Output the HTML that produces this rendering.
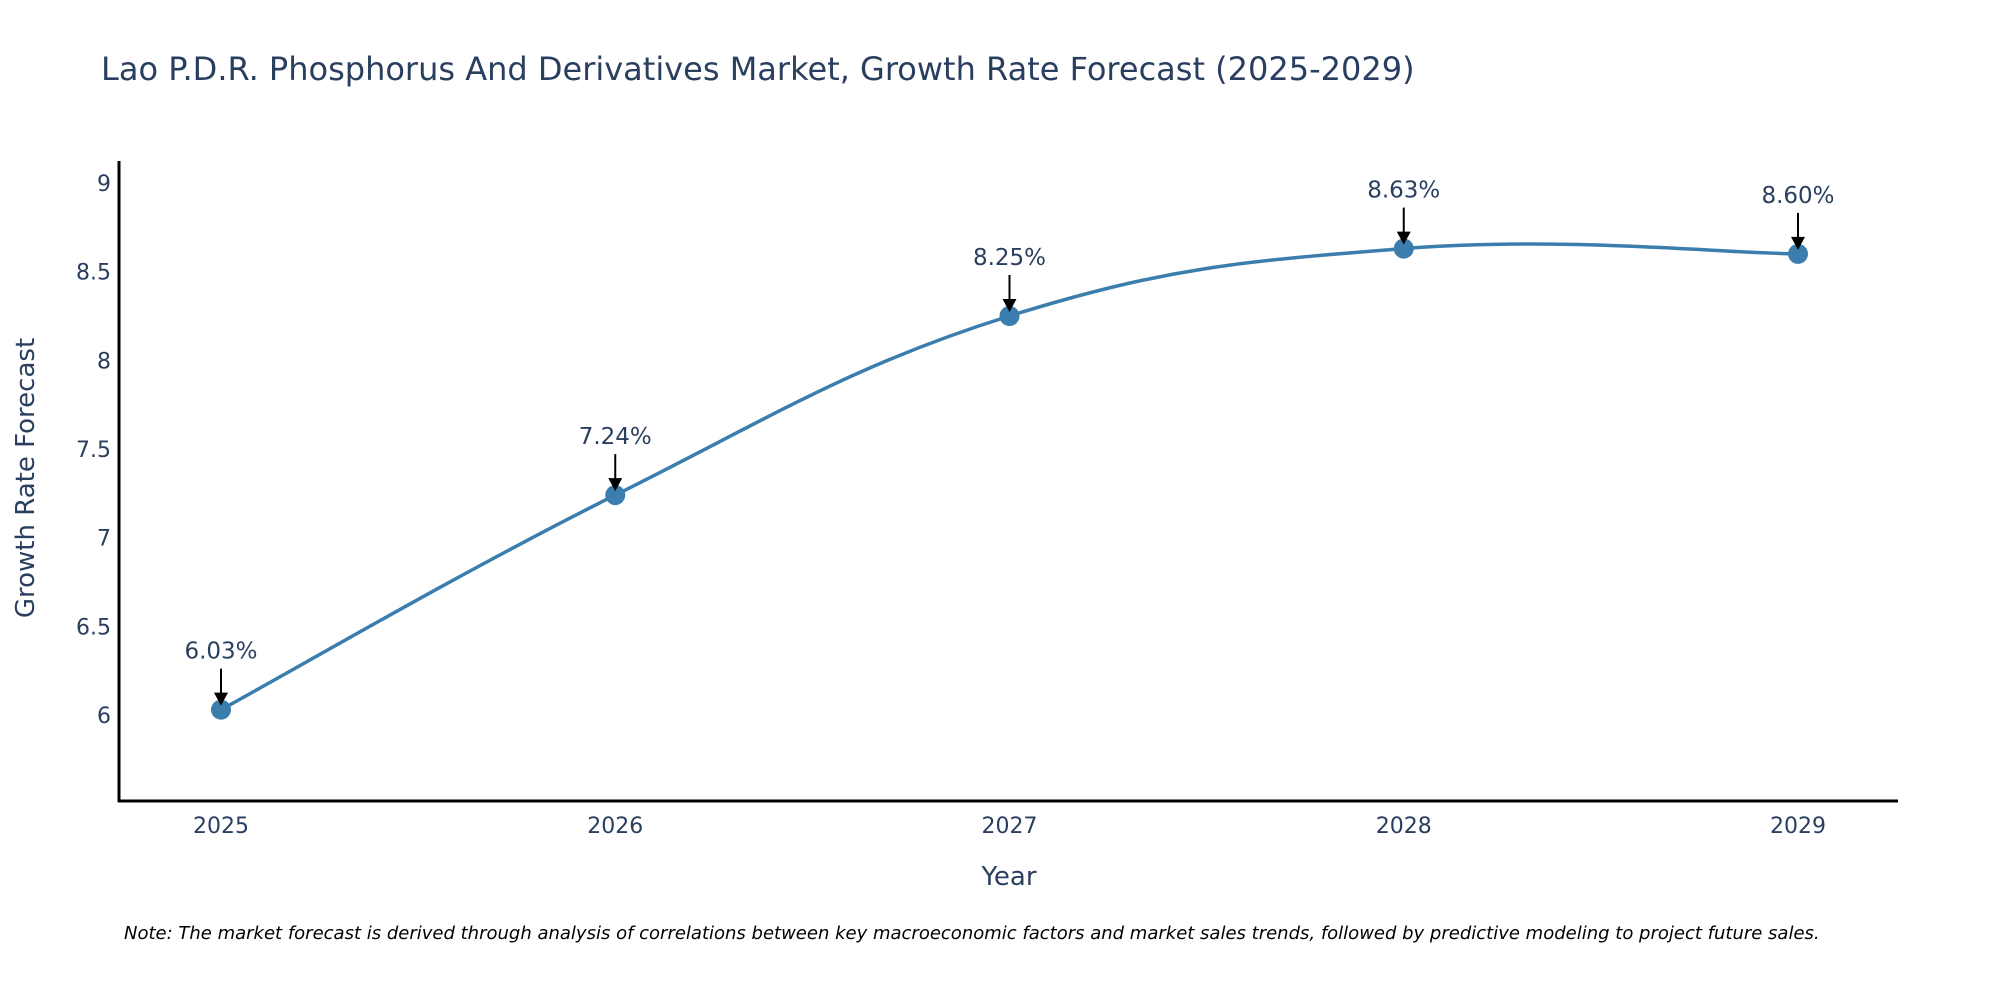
<!DOCTYPE html>
<html><head><meta charset="utf-8"><style>
body{margin:0;background:#fff;overflow:hidden;}
svg text{font-family:"DejaVu Sans","Liberation Sans",sans-serif;fill:#2a3f5f;}
</style></head><body>
<svg id="chart" width="2000" height="1000" xmlns="http://www.w3.org/2000/svg">
<rect width="2000" height="1000" fill="#fff"/>
<text x="101" y="80" font-size="32">Lao P.D.R. Phosphorus And Derivatives Market, Growth Rate Forecast (2025-2029)</text>
<g id="yticks"></g>
<g id="xticks"></g>
<line x1="119" y1="161" x2="119" y2="802" stroke="#000" stroke-width="3"/>
<line x1="118" y1="801" x2="1898" y2="801" stroke="#000" stroke-width="3"/>
<text transform="translate(34,478) rotate(-90)" text-anchor="middle" font-size="26">Growth Rate Forecast</text>
<text x="1009" y="885" text-anchor="middle" font-size="26">Year</text>
<path id="line" fill="none" stroke="#3b7eae" stroke-width="3.5"/>
<g id="marks"></g>
<text x="124" y="939" font-size="18" font-style="italic" style="fill:#000">Note: The market forecast is derived through analysis of correlations between key macroeconomic factors and market sales trends, followed by predictive modeling to project future sales.</text>
</svg>
<script>
const years = ["2025","2026","2027","2028","2029"];
const values = [6.03, 7.24, 8.25, 8.63, 8.60];
const labels = ["6.03%","7.24%","8.25%","8.63%","8.60%"];
const yTicks = [6, 6.5, 7, 7.5, 8, 8.5, 9];
const yTickLabels = ["6","6.5","7","7.5","8","8.5","9"];

const NS = "http://www.w3.org/2000/svg";
function xs(i){ return 221 + i * (1798 - 221) / 4; }
function ys(v){ return 715 - (v - 6) * (715 - 183) / 3; }
function mk(tag, attrs, parent){
  const e = document.createElementNS(NS, tag);
  for (const k in attrs) e.setAttribute(k, attrs[k]);
  parent.appendChild(e);
  return e;
}
const yt = document.getElementById('yticks');
yTicks.forEach((t, i) => {
  const e = mk('text', {x: 111, y: ys(t) + 8, 'text-anchor': 'end', 'font-size': 22}, yt);
  
  
  e.textContent = yTickLabels[i];
});
const xt = document.getElementById('xticks');
years.forEach((y, i) => {
  const e = mk('text', {x: xs(i), y: 833, 'text-anchor': 'middle', 'font-size': 22}, xt);
  
  
  e.textContent = y;
});
const pts = values.map((v, i) => [xs(i), ys(v)]);
let d = `M${pts[0][0]},${pts[0][1]}`;
const t = 0.2;
for (let i = 0; i < pts.length - 1; i++) {
  const p0 = pts[Math.max(0, i - 1)], p1 = pts[i], p2 = pts[i + 1], p3 = pts[Math.min(pts.length - 1, i + 2)];
  const c1 = [p1[0] + (p2[0] - p0[0]) * t, p1[1] + (p2[1] - p0[1]) * t];
  const c2 = [p2[0] - (p3[0] - p1[0]) * t, p2[1] - (p3[1] - p1[1]) * t];
  d += ` C${c1[0]},${c1[1]} ${c2[0]},${c2[1]} ${p2[0]},${p2[1]}`;
}
document.getElementById('line').setAttribute('d', d);
const mg = document.getElementById('marks');
pts.forEach((p, i) => {
  const c = mk('circle', {cx: p[0], cy: p[1], r: 10, fill: '#3b7eae'}, mg);
  
  
  const l = mk('line', {x1: p[0], y1: p[1] - 41, x2: p[0], y2: p[1] - 16, stroke: '#000', 'stroke-width': 2}, mg);
  
  
  const h = mk('polygon', {points: `${p[0]-7},${p[1]-17} ${p[0]+7},${p[1]-17} ${p[0]},${p[1]-4}`, fill: '#000'}, mg);
  
  
  const tx = mk('text', {x: p[0], y: p[1] - 51, 'text-anchor': 'middle', 'font-size': 23}, mg);
  
  
  tx.textContent = labels[i];
});
</script>
</body></html>
